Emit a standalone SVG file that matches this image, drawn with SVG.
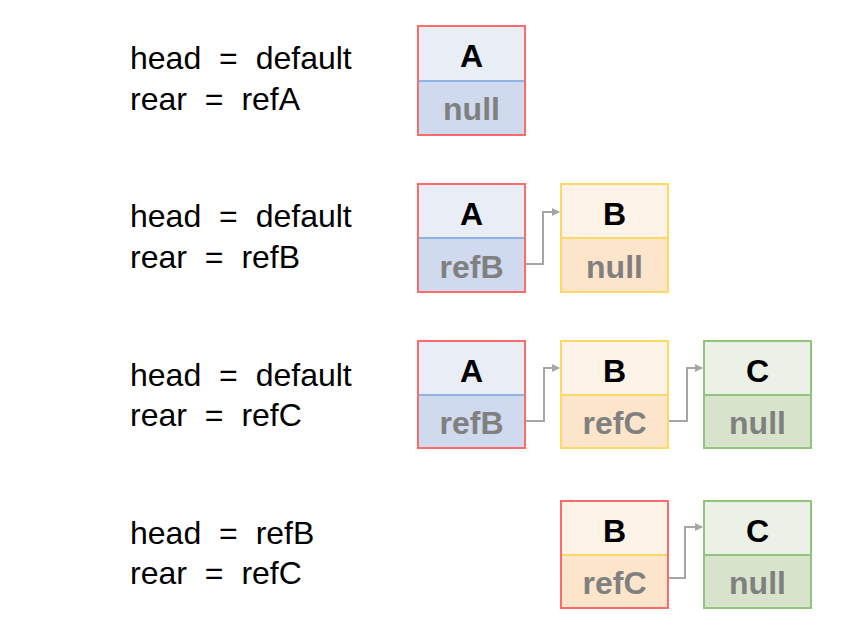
<svg xmlns="http://www.w3.org/2000/svg" width="845" height="632" viewBox="0 0 845 632">
<style>
.lbl{font-family:"Liberation Sans",Arial,sans-serif;font-size:32px;word-spacing:9px;fill:#000}
.t{font-family:"Liberation Sans",Arial,sans-serif;font-size:32px;font-weight:bold;fill:#000;text-anchor:middle}
.b{font-family:"Liberation Sans",Arial,sans-serif;font-size:32px;font-weight:bold;fill:#808080;text-anchor:middle}
.conn{fill:none;stroke:#a6a6a6;stroke-width:2}
.redb{fill:none;stroke:#ff6b6b;stroke-width:2}
.yelb{fill:none;stroke:#ffd966;stroke-width:2}
.grnb{fill:none;stroke:#93c47d;stroke-width:2}
</style>
<defs>
<marker id="ah" markerWidth="8" markerHeight="8" refX="7" refY="4" orient="auto" markerUnits="userSpaceOnUse">
<path d="M0,0 L8,4 L0,8 z" fill="#a6a6a6"/>
</marker>
</defs>
<rect width="845" height="632" fill="#fff"/>

<g id="labels">
<text class="lbl" x="130" y="69">head = default</text>
<text class="lbl" x="130" y="110">rear = refA</text>
<text class="lbl" x="130" y="227">head = default</text>
<text class="lbl" x="130" y="268">rear = refB</text>
<text class="lbl" x="130" y="386">head = default</text>
<text class="lbl" x="130" y="426">rear = refC</text>
<text class="lbl" x="130" y="544">head = refB</text>
<text class="lbl" x="130" y="584">rear = refC</text>
</g>

<g id="r1A">
<rect x="418" y="26" width="107" height="55" fill="#e9edf6"/>
<rect x="418" y="81" width="107" height="54" fill="#cfdaee"/>
<line x1="418" y1="81" x2="525" y2="81" stroke="#8fb4e3" stroke-width="2"/>
<rect class="redb" x="418" y="26" width="107" height="109"/>
<text class="t" x="471.500" y="67">A</text>
<text class="b" x="471.500" y="120">null</text>
</g>

<g id="r2A">
<rect x="418" y="184" width="107" height="54" fill="#e9edf6"/>
<rect x="418" y="238" width="107" height="54" fill="#cfdaee"/>
<line x1="418" y1="238" x2="525" y2="238" stroke="#8fb4e3" stroke-width="2"/>
<rect class="redb" x="418" y="184" width="107" height="108"/>
<text class="t" x="471.500" y="225">A</text>
<text class="b" x="471.500" y="278">refB</text>
</g>
<g id="r2B">
<rect x="561" y="184" width="107" height="54" fill="#fdf3e8"/>
<rect x="561" y="238" width="107" height="54" fill="#fde5cb"/>
<line x1="561" y1="238" x2="668" y2="238" stroke="#ffd966" stroke-width="2"/>
<rect class="yelb" x="561" y="184" width="107" height="108"/>
<text class="t" x="614.500" y="225">B</text>
<text class="b" x="614.500" y="278">null</text>
</g>

<g id="r3A">
<rect x="418" y="341" width="107" height="54" fill="#e9edf6"/>
<rect x="418" y="395" width="107" height="53" fill="#cfdaee"/>
<line x1="418" y1="395" x2="525" y2="395" stroke="#8fb4e3" stroke-width="2"/>
<rect class="redb" x="418" y="341" width="107" height="107"/>
<text class="t" x="471.500" y="382">A</text>
<text class="b" x="471.500" y="434">refB</text>
</g>
<g id="r3B">
<rect x="561" y="341" width="107" height="54" fill="#fdf3e8"/>
<rect x="561" y="395" width="107" height="53" fill="#fde5cb"/>
<line x1="561" y1="395" x2="668" y2="395" stroke="#ffd966" stroke-width="2"/>
<rect class="yelb" x="561" y="341" width="107" height="107"/>
<text class="t" x="614.500" y="382">B</text>
<text class="b" x="614.500" y="434">refC</text>
</g>
<g id="r3C">
<rect x="704" y="341" width="107" height="54" fill="#ebf1e7"/>
<rect x="704" y="395" width="107" height="53" fill="#d7e4cb"/>
<line x1="704" y1="395" x2="811" y2="395" stroke="#93c47d" stroke-width="2"/>
<rect class="grnb" x="704" y="341" width="107" height="107"/>
<text class="t" x="757.500" y="382">C</text>
<text class="b" x="757.500" y="434">null</text>
</g>

<g id="r4B">
<rect x="561" y="501" width="107" height="54" fill="#fdf3e8"/>
<rect x="561" y="555" width="107" height="53" fill="#fde5cb"/>
<line x1="561" y1="555" x2="668" y2="555" stroke="#ffd966" stroke-width="2"/>
<rect class="redb" x="561" y="501" width="107" height="107"/>
<text class="t" x="614.500" y="542">B</text>
<text class="b" x="614.500" y="594">refC</text>
</g>
<g id="r4C">
<rect x="704" y="501" width="107" height="54" fill="#ebf1e7"/>
<rect x="704" y="555" width="107" height="53" fill="#d7e4cb"/>
<line x1="704" y1="555" x2="811" y2="555" stroke="#93c47d" stroke-width="2"/>
<rect class="grnb" x="704" y="501" width="107" height="107"/>
<text class="t" x="757.500" y="542">C</text>
<text class="b" x="757.500" y="594">null</text>
</g>

<g id="connectors">
<path class="conn" d="M526,264 H543 V212 H559" marker-end="url(#ah)"/>
<path class="conn" d="M526,421 H544 V368 H559" marker-end="url(#ah)"/>
<path class="conn" d="M669,421 H687 V368 H702" marker-end="url(#ah)"/>
<path class="conn" d="M669,578 H685 V527 H702" marker-end="url(#ah)"/>
</g>
</svg>
